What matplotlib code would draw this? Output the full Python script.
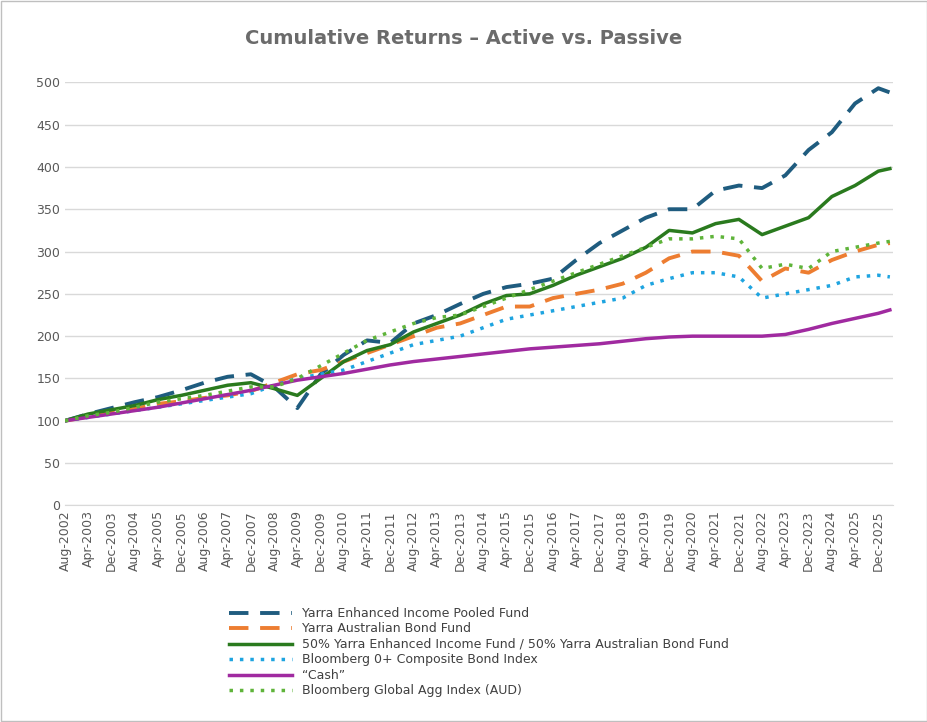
import matplotlib
matplotlib.use("Agg")
import matplotlib.pyplot as plt
import pandas as pd

# one reading every 8 months, Aug-2002 .. Dec-2025, plus Apr-2026
dates = list(pd.date_range("2002-08-01", "2025-12-01", freq="8MS")) + [pd.Timestamp("2026-04-01")]

enhanced = [100, 108, 115, 122, 128, 136, 145, 152, 155, 140, 115, 155, 178, 195, 192, 215, 225, 238,
            250, 258, 262, 268, 290, 310, 325, 340, 350, 350, 372, 378, 375, 390, 420, 441, 475, 493, 488]
aus_bond = [100, 105, 110, 114, 120, 123, 127, 130, 135, 145, 155, 160, 170, 180, 190, 200, 210, 215,
            225, 235, 235, 245, 250, 255, 262, 275, 292, 300, 300, 295, 265, 280, 275, 290, 300, 308, 310]
blend = [100, 108, 113, 118, 125, 130, 136, 142, 145, 138, 130, 150, 170, 183, 190, 205, 215, 225,
         238, 248, 250, 260, 272, 282, 292, 305, 325, 322, 333, 338, 320, 330, 340, 365, 378, 395, 398]
composite = [100, 104, 108, 112, 116, 120, 124, 128, 132, 142, 150, 155, 160, 170, 180, 190, 195, 200,
             210, 220, 225, 230, 235, 240, 245, 260, 268, 275, 275, 270, 245, 250, 255, 260, 270, 272, 270]
cash = [100, 104, 108, 112, 116, 121, 126, 131, 136, 142, 148, 152, 156, 161, 166, 170, 173, 176,
        179, 182, 185, 187, 189, 191, 194, 197, 199, 200, 200, 200, 200, 202, 208, 215, 221, 227, 231]
global_agg = [100, 106, 110, 116, 122, 126, 130, 135, 140, 140, 150, 165, 180, 195, 205, 215, 222, 225,
              235, 245, 255, 265, 275, 285, 295, 305, 315, 315, 318, 315, 280, 285, 280, 300, 305, 310, 312]

fig = plt.figure(figsize=(9.28, 7.22), dpi=100)
ax = fig.add_axes([0.07, 0.30, 0.892, 0.586])

ax.plot(dates, enhanced, color="#1f5c7f", lw=2.8, ls=(0, (5, 3)), label="Yarra Enhanced Income Pooled Fund")
ax.plot(dates, aus_bond, color="#ed7d31", lw=2.8, ls=(0, (5, 3)), label="Yarra Australian Bond Fund")
ax.plot(dates, blend, color="#2a7a1e", lw=2.5,
        label="50% Yarra Enhanced Income Fund / 50% Yarra Australian Bond Fund")
ax.plot(dates, composite, color="#1ea4e0", lw=2.5, ls=(0, (1, 2)), label="Bloomberg 0+ Composite Bond Index")
ax.plot(dates, cash, color="#a02aa0", lw=2.5, label="\u201cCash\u201d")
ax.plot(dates, global_agg, color="#5fb43a", lw=2.5, ls=(0, (1, 2)), label="Bloomberg Global Agg Index (AUD)")

ax.set_ylim(0, 500)
ax.set_yticks(range(0, 501, 50))
ax.set_xlim(pd.Timestamp("2002-08-01"), pd.Timestamp("2026-05-01"))
ticks = dates[:-1]
ax.set_xticks(ticks)
ax.set_xticklabels([d.strftime("%b-%Y") for d in ticks], rotation=90)
ax.tick_params(colors="#595959", labelsize=9, length=0)
ax.grid(axis="y", color="#d9d9d9", lw=1)
ax.set_axisbelow(True)
for s in ax.spines.values():
    s.set_visible(False)
ax.spines["bottom"].set_visible(True)
ax.spines["bottom"].set_color("#d9d9d9")

fig.suptitle("Cumulative Returns \u2013 Active vs. Passive", x=0.5, y=0.96, fontsize=14,
             fontweight="bold", color="#6b6b6b")
fig.legend(loc="upper left", bbox_to_anchor=(0.235, 0.175), frameon=False, fontsize=9,
           handlelength=5, labelspacing=0.2, labelcolor="#404040")
fig.patches.append(plt.Rectangle((0.001, 0.001), 0.998, 0.998, transform=fig.transFigure,
                                 fill=False, edgecolor="#bfbfbf", lw=1))
fig.savefig("out.png", dpi=100)
